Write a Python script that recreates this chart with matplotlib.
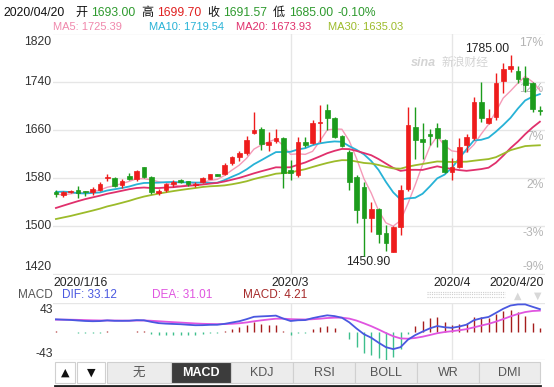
import numpy as np
import pandas as pd
import matplotlib.pyplot as plt
from matplotlib.patches import Rectangle
from matplotlib.transforms import offset_copy

plt.rcParams['font.family'] = ['Liberation Sans', 'Noto Sans CJK SC', 'DejaVu Sans']

# -------------------- Data --------------------
# closes before 2020/1/16, only used so the MA / MACD lines have history
prior_close = [1484.3, 1480.0, 1483.0, 1465.0, 1468.0, 1471.0, 1475.0, 1470.0, 1481.0,
               1480.0, 1481.0, 1479.0, 1484.0, 1481.0, 1488.0, 1504.0, 1514.0, 1519.0,
               1518.0, 1523.0, 1528.0, 1552.0, 1566.0, 1574.0, 1560.0, 1552.0, 1562.0,
               1550.0, 1546.0, 1555.0]

opens = [1556.3, 1551.9, 1556.3, 1560.2, 1558.5, 1556.3, 1560.2, 1580.7, 1580.1, 1568.5,
         1583.4, 1577.9, 1598.9, 1582.3, 1555.8, 1560.2, 1570.2, 1576.8, 1575.1, 1568.0,
         1572.9, 1578.5, 1586.2, 1586.8, 1604.5, 1614.4, 1622.2, 1654.3, 1661.5, 1634.9,
         1641.6, 1646.0, 1593.4, 1585.1, 1640.4, 1637.7, 1670.9, 1693.0, 1679.2, 1649.8,
         1623.8, 1582.3, 1564.6, 1513.2, 1528.1, 1488.3, 1457.9, 1499.3, 1561.3, 1665.3,
         1644.3, 1652.6, 1662.6, 1643.2, 1590.6, 1597.8, 1634.9, 1646.0, 1706.8, 1672.0,
         1680.8, 1741.7, 1760.5, 1758.3, 1746.7, 1738.4, 1693.00]
highs = [1560.2, 1559.1, 1560.2, 1566.8, 1559.1, 1564.6, 1574.0, 1586.8, 1581.2, 1577.9,
         1589.0, 1593.4, 1598.9, 1583.4, 1561.9, 1571.3, 1576.8, 1577.9, 1575.7, 1574.0,
         1581.2, 1587.0, 1587.0, 1605.6, 1616.6, 1625.5, 1649.8, 1690.2, 1665.3, 1655.9,
         1661.0, 1647.6, 1610.0, 1648.7, 1648.7, 1676.4, 1701.3, 1703.0, 1680.8, 1651.5,
         1626.6, 1585.1, 1574.0, 1540.8, 1529.8, 1502.1, 1500.5, 1568.5, 1697.4, 1697.4,
         1670.9, 1660.9, 1670.9, 1644.3, 1612.8, 1646.0, 1653.2, 1715.1, 1740.0, 1694.1,
         1753.9, 1770.5, 1785.0, 1766.0, 1766.0, 1740.0, 1699.70]
lows = [1548.0, 1549.1, 1555.8, 1546.4, 1550.8, 1551.9, 1558.5, 1575.7, 1565.7, 1563.0,
        1576.8, 1575.7, 1579.6, 1553.0, 1551.9, 1557.4, 1564.6, 1571.3, 1567.4, 1565.7,
        1571.3, 1577.9, 1583.4, 1585.1, 1601.7, 1608.9, 1618.3, 1653.2, 1626.6, 1625.5,
        1637.7, 1563.0, 1576.8, 1582.3, 1632.1, 1636.6, 1640.4, 1659.8, 1646.0, 1632.1,
        1560.2, 1504.9, 1450.9, 1491.1, 1471.7, 1459.5, 1457.3, 1485.5, 1559.1, 1611.1,
        1611.1, 1634.9, 1632.1, 1587.9, 1576.8, 1596.2, 1623.8, 1643.2, 1673.6, 1669.8,
        1676.4, 1720.7, 1756.6, 1737.3, 1723.4, 1690.2, 1685.00]
closes = [1553.6, 1556.3, 1559.1, 1554.7, 1556.3, 1561.3, 1569.6, 1582.3, 1566.8, 1575.1,
          1579.0, 1591.7, 1582.3, 1557.4, 1559.1, 1569.6, 1572.9, 1574.0, 1569.6, 1570.2,
          1579.6, 1586.2, 1584.0, 1601.7, 1614.4, 1621.1, 1643.2, 1659.8, 1636.0, 1639.3,
          1645.9, 1587.9, 1587.9, 1640.4, 1634.9, 1670.9, 1673.6, 1679.2, 1648.7, 1633.2,
          1574.0, 1527.0, 1513.2, 1528.7, 1487.2, 1472.8, 1499.3, 1560.2, 1668.1, 1643.2,
          1640.4, 1649.8, 1646.0, 1590.6, 1598.9, 1632.1, 1648.7, 1706.8, 1679.2, 1679.2,
          1738.4, 1760.5, 1766.0, 1743.9, 1734.5, 1694.1, 1691.57]

date_labels = ["2020/1/16", "2020/3", "2020/4", "2020/4/20"]
month_start_idx = [32, 54]          # first bar of March / April
price_ticks = [1820, 1740, 1660, 1580, 1500, 1420]
pct_labels = ["17%", "12%", "7%", "2%", "-3%", "-9%"]

ma_periods = [5, 10, 20, 30]
ma_colors = ["#f59ab8", "#27b2d6", "#e0306c", "#9cbb2a"]
ma_texts = ["MA5: 1725.39", "MA10: 1719.54", "MA20: 1673.93", "MA30: 1635.03"]

UP = "#ee1c1c"
DOWN = "#1c9c1c"
GRID = "#e6e6e6"
W, H = 554, 387


def px(x, y):
    return x / W, 1 - y / H


# -------------------- Indicators --------------------
full = pd.Series(prior_close + closes)
n = len(closes)
mas = {p: full.rolling(p).mean().iloc[-n:].to_numpy() for p in ma_periods}
ema12 = full.ewm(span=12, adjust=False).mean()
ema26 = full.ewm(span=26, adjust=False).mean()
dif_s = ema12 - ema26
dea_s = dif_s.ewm(span=9, adjust=False).mean()
dif = dif_s.iloc[-n:].to_numpy()
dea = dea_s.iloc[-n:].to_numpy()
hist = 2 * (dif - dea)

o = np.array(opens); h = np.array(highs); l = np.array(lows); c = np.array(closes)
x = np.arange(n)
up = c >= o
col = np.where(up, UP, DOWN)

# -------------------- Figure --------------------
fig = plt.figure(figsize=(W / 100, H / 100), dpi=100)
ax = fig.add_axes([53 / W, 1 - 274.5 / H, 492 / W, 241 / H])
mx = fig.add_axes([53 / W, 1 - 360.3 / H, 492 / W, 57.6 / H])

for a in (ax, mx):
    for s in a.spines.values():
        s.set_visible(False)
    a.set_xticks([]); a.set_yticks([])
    a.set_xlim(-0.4, n - 0.3)
    for xi in month_start_idx:
        a.axvline(xi, color=GRID, lw=1, zorder=0)

ax.set_ylim(1420, 1820)
for p in price_ticks:
    ax.axhline(p, color=GRID, lw=1, zorder=0)

# price labels (left) and percent labels (right)
ytr = ax.get_yaxis_transform()
for i, (p, lab) in enumerate(zip(price_ticks, pct_labels)):
    if i == 0:
        dl, dr = -9, -9.5
    elif i == len(price_ticks) - 1:
        dl, dr = 7.5, 7.5
    else:
        dl, dr = 0, -7
    ax.text(-0.003, p, str(p), ha="right", va="center", fontsize=8.7, color="#333333",
            transform=offset_copy(ytr, fig=fig, y=dl, units="dots"), clip_on=False)
    ax.text(0.997, p, lab, ha="right", va="center", fontsize=8.7, color="#b4b4b4",
            transform=offset_copy(ytr, fig=fig, y=dr, units="dots"), zorder=1)

# watermark
fig.text(*px(411, 63), "sina", fontsize=9, style="italic", fontweight="bold",
         color="#d4d4d4", va="center", zorder=0)
fig.text(*px(442, 63), "新浪财经", fontsize=8.5, style="italic", color="#d4d4d4",
         va="center", zorder=0)

# MA lines
for p, colr in zip(ma_periods, ma_colors):
    ax.plot(x, mas[p], color=colr, lw=1.0 if p == 5 else 1.3, zorder=3)

# candles
ax.vlines(x, l, h, colors=col, lw=1, zorder=4)
body_lo = np.minimum(o, c)
body_h = np.maximum(np.abs(c - o), 1.0)
ax.bar(x, body_h, bottom=body_lo, width=0.64, color=col, edgecolor=col, lw=0.5, zorder=5)

# high / low annotations
ih = int(np.argmax(h)); il = int(np.argmin(l))
ax.annotate(f"{h[ih]:.2f}", (ih, h[ih]), xytext=(-1, 6), textcoords="offset pixels",
            ha="right", va="center", fontsize=8.7, color="#222222")
ax.annotate(f"{l[il]:.2f}", (il, l[il]), xytext=(4, -6), textcoords="offset pixels",
            ha="center", va="center", fontsize=8.7, color="#222222")

# MACD panel
mx.set_ylim(-43, 43)
mx.axhline(43, color=GRID, lw=1, zorder=0)
mx.axhline(-43, color=GRID, lw=1, zorder=0)
mx.vlines(x, 0, hist, colors=np.where(hist >= 0, "#a51d1d", "#3dbf8c"), lw=1, zorder=2)
mx.plot(x, dea, color="#e055e0", lw=1.3, zorder=3)
mx.plot(x, dif, color="#4a58e0", lw=1.3, zorder=4)
fig.text(*px(53, 309.7), "43", ha="right", va="center", fontsize=8.7, color="#333333")
fig.text(*px(53, 353.7), "-43", ha="right", va="center", fontsize=8.7, color="#333333")

# -------------------- Header texts --------------------
head = [("2020/04/20", 3, "#111111"), ("开", 75, "#111111"), ("1693.00", 91, "#2e9a2e"),
        ("高", 141, "#111111"), ("1699.70", 157, "#e02020"), ("收", 207, "#111111"),
        ("1691.57", 223, "#2e9a2e"), ("低", 273, "#111111"), ("1685.00", 289, "#2e9a2e"),
        ("-0.10%", 337, "#2e9a2e")]
for t, xp, colr in head:
    fig.text(*px(xp, 13), t, fontsize=8.7, color=colr, va="center")

for t, xp, colr in zip(ma_texts, [53, 149, 236, 328], ["#f088ac", "#27b2d6", "#e0306c", "#9cbb2a"]):
    fig.text(*px(xp, 27), t, fontsize=8.0, color=colr, va="center")

# date labels
fig.text(*px(53.5, 283), date_labels[0], fontsize=8.7, color="#222222", va="center")
for t, xi in zip(date_labels[1:3], month_start_idx):
    xd = ax.transData.transform((xi, 0))[0] / fig.dpi / fig.get_figwidth()
    fig.text(xd, 1 - 283 / H, t, fontsize=8.7, color="#222222", va="center", ha="center")
fig.text(*px(544, 283), date_labels[3], fontsize=8.7, color="#222222", va="center", ha="right")

# MACD header
fig.text(*px(18, 294.5), "MACD", fontsize=8.5, color="#555555", va="center")
fig.text(*px(62, 294.5), "DIF: 33.12", fontsize=8.5, color="#4a58e0", va="center")
fig.text(*px(152, 294.5), "DEA: 31.01", fontsize=8.5, color="#e055e0", va="center")
fig.text(*px(243, 294.5), "MACD: 4.21", fontsize=8.5, color="#a52a2a", va="center")

# zoom controls (dotted strip and arrows)
for k in range(3):
    fig.add_artist(plt.Line2D([427 / W, 505 / W], [1 - (291.5 + 2.5 * k) / H] * 2,
                              color="#cfcfcf", lw=0.8, ls=(0, (1, 1))))
fig.text(*px(518, 296), "▲", fontsize=7, color="#d8d8d8", ha="center", va="center",
         family="DejaVu Sans")
fig.text(*px(538, 296), "▼", fontsize=7, color="#d8d8d8", ha="center", va="center",
         family="DejaVu Sans")

# -------------------- Toolbar --------------------
buttons = ["▲", "▼", "无", "MACD", "KDJ", "RSI", "BOLL", "WR", "DMI"]
edges = [55, 77, 107, 171, 231, 293, 355, 417, 479, 540]
for i, lab in enumerate(buttons):
    x0, x1 = edges[i], edges[i + 1]
    if i < 2:
        fc, tc = "white", "#111111"
        x1 -= 2
    elif lab == "MACD":
        fc, tc = "#3c3c3c", "white"
    else:
        fc, tc = "#ececec", "#555555"
    fig.add_artist(Rectangle(px(x0, 383), (x1 - x0) / W, 21 / H, transform=fig.transFigure,
                             facecolor=fc, edgecolor="#d0d0d0", lw=0.8))
    fig.text(*px((x0 + x1) / 2, 372.5), lab, fontsize=9 if i >= 2 else 8,
             color=tc, ha="center", va="center",
             fontweight="bold" if lab == "MACD" else "normal",
             family=["DejaVu Sans"] if i < 2 else None)
fig.add_artist(plt.Line2D([55 / W, 540 / W], [1 - 386 / H] * 2, color="#222222", lw=2))

fig.savefig("out.png", dpi=100)
